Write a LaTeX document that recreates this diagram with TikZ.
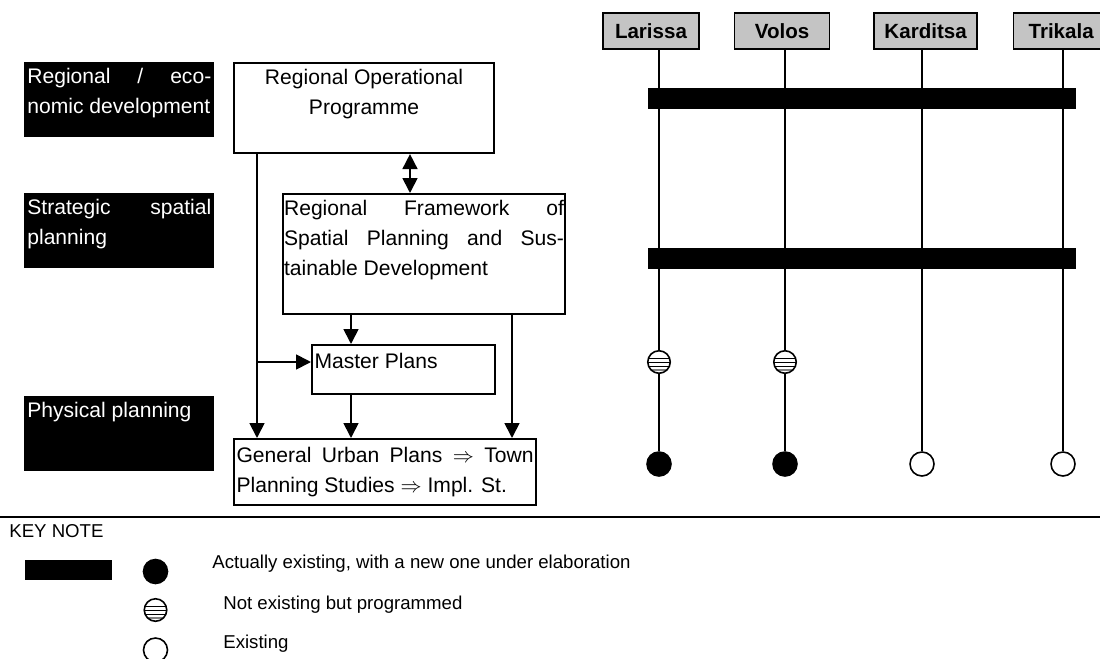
\documentclass[tikz,border=0pt]{standalone}
\usepackage{fontspec}
\setmainfont{Liberation Sans}
\usetikzlibrary{positioning,arrows.meta}
\definecolor{citygray}{rgb}{0.77, 0.77, 0.77}

\begin{document}
\begin{tikzpicture}[
    x=0.02cm, y=-0.02cm,
    >={Triangle[length=0.3cm,width=0.3cm]},
    tierbox/.style={fill=black, text=white, anchor=north west, inner xsep=0.06cm, inner ysep=0.12cm, font=\fontsize{12}{17}\selectfont},
    block/.style={draw, line width=1.2pt, anchor=north west, inner xsep=0.05cm, inner ysep=0.12cm, font=\fontsize{12}{17}\selectfont},
    link/.style={line width=1pt},
    citybox/.style={draw, line width=0.9pt, fill=citygray, minimum height=0.72cm, inner sep=0, font=\fontsize{11.7}{14}\selectfont\bfseries},
    cityline/.style={line width=0.8pt},
    barbox/.style={fill=black, inner sep=0, anchor=north west},
    plannode/.style={circle, draw, line width=0.9pt, minimum size=0.48cm, inner sep=0},
    doneplan/.style={plannode, fill=black},
    openplan/.style={plannode, fill=white},
    stripeplan/.style={plannode, minimum size=0.45cm, fill=white, path picture={
        \foreach \dy in {0.07,-0.01,-0.09}
            \draw[line width=0.6pt] ([yshift=\dy cm]path picture bounding box.west) -- ([yshift=\dy cm]path picture bounding box.east);
        \draw[gray, line width=0.7pt] ([yshift=-0.16cm]path picture bounding box.west) -- ([yshift=-0.16cm]path picture bounding box.east);
    }},
    keytext/.style={anchor=base west, inner sep=0, font=\fontsize{10.6}{13}\selectfont}
]
\useasboundingbox (0,0) rectangle (1100,659);

% Planning levels
\node[tierbox] (eco) at (24,62) {\parbox[t][1.26cm][t]{3.68cm}{Regional \hfill / \hfill eco-\\nomic development}};
\node[tierbox] (strat) at (24,193) {\parbox[t][1.26cm][t]{3.68cm}{Strategic \hfill spatial\\planning}};
\node[tierbox] (phys) at (24,396) {\parbox[t][1.26cm][t]{3.68cm}{Physical planning}};

% Plan blocks
\node[block] (rop) at (233,62) {\parbox[t][1.56cm][t]{5.1cm}{\centering Regional Operational\\Programme}};
\node[block, inner xsep=0.02cm] (rf) at (282,193) {\parbox[t][2.16cm][t]{5.6cm}{Regional \hfill Framework \hfill of\\Spatial \hfill Planning \hfill and \hfill Sus-\\tainable Development}};
\node[block, inner ysep=0.16cm] (mp) at (311,344) {\parbox[t][0.66cm][t]{3.56cm}{Master Plans}};
\node[block, inner ysep=0.16cm] (gup) at (233,438) {\parbox[t][1.0cm][t]{5.94cm}{General \hfill Urban \hfill Plans \hfill $\Rightarrow$ \hfill Town\\Planning Studies $\Rightarrow$ Impl. St.}};

% Lanes
\coordinate (split) at (257,362);
\coordinate (lanea) at (410,0);
\coordinate (laneb) at (351,0);
\coordinate (lanec) at (512,0);

% Connections
\draw[<->, link] (rop.south -| lanea) -- (rf.north -| lanea);
\draw[->, link] (rop.south -| split) -- (gup.north -| split);
\draw[->, link] (split) -- (mp.west |- split);
\draw[->, link] (rf.south -| laneb) -- (mp.north -| laneb);
\draw[->, link] (mp.south -| laneb) -- (gup.north -| laneb);
\draw[->, link] (rf.south -| lanec) -- (gup.north -| lanec);

% Cities
\node[citybox, minimum width=1.92cm] (larissa) at (651,31) {Larissa};
\node[citybox, minimum width=1.9cm, right=0.68cm of larissa] (volos) {Volos};
\node[citybox, minimum width=2.06cm, right=0.86cm of volos] (karditsa) {Karditsa};
\node[citybox, minimum width=1.9cm, right=0.7cm of karditsa] (trikala) {Trikala};

% Plan states
\node[stripeplan] (larplan) at (659,362) {};
\node[doneplan] (lardone) at (659,464) {};
\node[stripeplan] (volplan) at (785,362) {};
\node[doneplan] (voldone) at (785,464) {};
\node[openplan] (karopen) at (922,464) {};
\node[openplan] (trikopen) at (1063,464) {};

\draw[cityline] (larissa.south -| larplan) -- (larplan);
\draw[cityline] (larplan) -- (lardone);
\draw[cityline] (volos.south -| volplan) -- (volplan);
\draw[cityline] (volplan) -- (voldone);
\draw[cityline] (karditsa.south -| karopen) -- (karopen);
\draw[cityline] (trikala.south -| trikopen) -- (trikopen);

% Bars
\node[barbox, minimum width=8.56cm, minimum height=0.42cm] (ropbar) at (648,88) {};
\node[barbox, minimum width=8.56cm, minimum height=0.41cm] (rfbar) at (648,248) {};

% Key note
\draw[line width=1pt] (0,517) -- (1100,517);
\node[keytext] (keynote) at (9,537) {KEY NOTE};
\node[barbox, minimum width=1.74cm, minimum height=0.4cm] (keybar) at (25,560) {};
\node[doneplan] (keydone) at (155.5,571.5) {};
\node[stripeplan] (keyplan) at (155.5,610) {};
\node[openplan] (keyopen) at (155.5,650) {};
\node[keytext] (keydonetext) at (212,568) {Actually existing, with a new one under elaboration};
\node[keytext] (keyplantext) at (223,609) {Not existing but programmed};
\node[keytext] (keyopentext) at (223,648) {Existing};

\end{tikzpicture}
\end{document}
